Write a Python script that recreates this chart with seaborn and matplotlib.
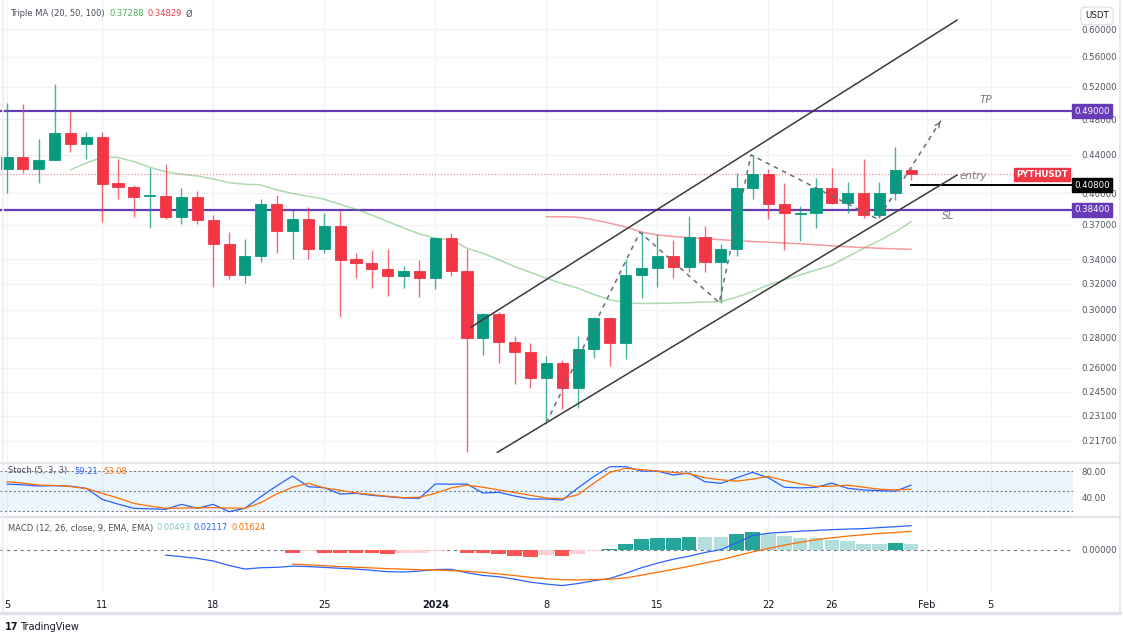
import numpy as np
import pandas as pd
import matplotlib
matplotlib.use("Agg")
import matplotlib.pyplot as plt
import seaborn as sns

W, H = 1123, 637

# daily candles PYTHUSDT, from 5 Dec 2023
start = pd.Timestamp("2023-12-05")
opens = [0.4244, 0.4372, 0.4247, 0.4339, 0.4645, 0.4521, 0.4596, 0.4100, 0.4066, 0.3970,
         0.3976, 0.3775, 0.3961, 0.3742, 0.3532, 0.3267, 0.3426, 0.3896, 0.3642, 0.3751,
         0.3484, 0.3690, 0.3399, 0.3370, 0.3321, 0.3259, 0.3302, 0.3248, 0.3585, 0.3302,
         0.2801, 0.2967, 0.2769, 0.2701, 0.2537, 0.2633, 0.2472, 0.2724, 0.2938, 0.2766,
         0.3267, 0.3329, 0.3429, 0.3332, 0.3588, 0.3374, 0.3486, 0.4050, 0.4192, 0.3896,
         0.3803, 0.3807, 0.4056, 0.3908, 0.4006, 0.3791, 0.4006, 0.4237]
highs = [0.4995, 0.4986, 0.4577, 0.5239, 0.4904, 0.4657, 0.4657, 0.4350, 0.4083, 0.4254,
         0.4300, 0.4056, 0.4023, 0.3791, 0.3638, 0.3573, 0.3944, 0.3983, 0.3838, 0.3864,
         0.3807, 0.3838, 0.3454, 0.3478, 0.3486, 0.3343, 0.3393, 0.3585, 0.3629, 0.3484,
         0.2979, 0.2986, 0.2812, 0.2762, 0.2677, 0.2651, 0.2812, 0.2945, 0.2950, 0.3399,
         0.3638, 0.3615, 0.3564, 0.3785, 0.3690, 0.3527, 0.4208, 0.4397, 0.4244, 0.4106,
         0.3876, 0.4151, 0.4254, 0.4116, 0.4350, 0.4116, 0.4481, 0.4261]
lows = [0.4006, 0.4208, 0.4106, 0.4339, 0.4432, 0.4350, 0.3724, 0.3944, 0.3770, 0.3669,
        0.3751, 0.3708, 0.3708, 0.3172, 0.3235, 0.3208, 0.3379, 0.3454, 0.3399, 0.3399,
        0.3454, 0.2950, 0.3243, 0.3169, 0.3107, 0.3169, 0.3099, 0.3156, 0.3264, 0.2114,
        0.2684, 0.2633, 0.2498, 0.2475, 0.2263, 0.2347, 0.2353, 0.2662, 0.2612, 0.2655,
        0.3087, 0.3176, 0.3243, 0.3296, 0.3296, 0.3053, 0.3426, 0.3944, 0.3751, 0.3478,
        0.3556, 0.3669, 0.3896, 0.3813, 0.3760, 0.3760, 0.3934, 0.4133]
closes = [0.4372, 0.4244, 0.4342, 0.4645, 0.4521, 0.4596, 0.4096, 0.4066, 0.3966, 0.3980,
          0.3775, 0.3961, 0.3742, 0.3532, 0.3267, 0.3429, 0.3896, 0.3642, 0.3751, 0.3484,
          0.3690, 0.3393, 0.3365, 0.3318, 0.3259, 0.3302, 0.3248, 0.3585, 0.3302, 0.2801,
          0.2967, 0.2769, 0.2701, 0.2537, 0.2633, 0.2472, 0.2724, 0.2938, 0.2766, 0.3269,
          0.3329, 0.3429, 0.3332, 0.3588, 0.3374, 0.3486, 0.4056, 0.4192, 0.3896, 0.3807,
          0.3813, 0.4056, 0.3908, 0.4006, 0.3791, 0.4006, 0.4237, 0.4192]

# Triple MA (only the 50 and 100 are visible)
ma50_start = 4
ma50 = [0.4237, 0.4310, 0.4372, 0.4370, 0.4325, 0.4265, 0.4219, 0.4192, 0.4175, 0.4143,
        0.4106, 0.4090, 0.4083, 0.4033, 0.3998, 0.3970, 0.3941, 0.3893, 0.3845, 0.3790,
        0.3730, 0.3672, 0.3618, 0.3579, 0.3564, 0.3492, 0.3449, 0.3395, 0.3337, 0.3290,
        0.3243, 0.3200, 0.3164, 0.3115, 0.3074, 0.3053, 0.3047, 0.3048, 0.3050, 0.3053,
        0.3058, 0.3061, 0.3095, 0.3138, 0.3190, 0.3230, 0.3269, 0.3310, 0.3351, 0.3420,
        0.3492, 0.3560, 0.3636, 0.3729]
ma100_start = 34
ma100 = [0.3775, 0.3774, 0.3770, 0.3745, 0.3715, 0.3680, 0.3635, 0.3608, 0.3595, 0.3584,
         0.3575, 0.3566, 0.3558, 0.3551, 0.3545, 0.3538, 0.3530, 0.3522, 0.3513, 0.3505,
         0.3498, 0.3492, 0.3487, 0.3483]

# Stoch (5, 3, 3)
stoch_k = [60.7, 59.5, 57.8, 58.3, 57.5, 54.3, 38.0, 31.0, 24.7, 24.0,
           23.2, 30.6, 24.7, 30.6, 19.7, 24.7, 42.0, 58.0, 72.6, 56.8,
           55.3, 45.9, 46.9, 44.0, 42.0, 40.0, 39.5, 60.7, 60.5, 60.7,
           47.4, 48.4, 43.0, 38.5, 38.5, 37.0, 55.0, 72.0, 86.4, 86.4,
           80.0, 80.0, 74.1, 77.0, 64.2, 61.7, 70.0, 78.0, 70.0, 56.0,
           55.0, 55.8, 62.0, 54.3, 52.0, 50.9, 50.0, 59.21]
stoch_d = [64.2, 62.0, 59.2, 58.5, 57.0, 54.0, 47.0, 40.0, 32.0, 28.0,
           24.7, 25.0, 25.5, 25.7, 25.0, 24.7, 33.0, 46.0, 56.0, 61.7,
           55.0, 51.5, 47.5, 45.0, 42.5, 40.5, 41.0, 47.0, 55.0, 59.0,
           56.0, 52.0, 48.0, 44.0, 40.0, 39.0, 45.0, 62.0, 78.0, 84.0,
           82.0, 80.0, 78.0, 76.0, 70.0, 67.0, 65.0, 68.0, 72.0, 66.0,
           61.0, 57.0, 57.5, 59.0, 56.0, 53.0, 52.0, 53.08]

# MACD (12, 26, close, 9)
macd_start = 10
macd_line = [-0.0049, -0.0062, -0.0078, -0.0100, -0.0140, -0.0172, -0.0160, -0.0157, -0.0146, -0.0150,
             -0.0157, -0.0165, -0.0172, -0.0183, -0.0195, -0.0198, -0.0190, -0.0176, -0.0174, -0.0205,
             -0.0228, -0.0240, -0.0262, -0.0288, -0.0305, -0.0318, -0.0300, -0.0275, -0.0255, -0.0210,
             -0.0160, -0.0120, -0.0085, -0.0058, -0.0025, 0.0000, 0.0060, 0.0125, 0.0145, 0.0155,
             0.0163, 0.0170, 0.0177, 0.0182, 0.0186, 0.0195, 0.0203, 0.02117]
signal_start = 18
signal_line = [-0.0128, -0.0135, -0.0142, -0.0150, -0.0156, -0.0162, -0.0168, -0.0173, -0.0178, -0.0180,
               -0.0185, -0.0192, -0.0202, -0.0215, -0.0230, -0.0245, -0.0258, -0.0266, -0.0268, -0.0265,
               -0.0261, -0.0250, -0.0226, -0.0200, -0.0175, -0.0148, -0.0118, -0.0090, -0.0055, -0.0020,
               0.0010, 0.0040, 0.0065, 0.0088, 0.0105, 0.0120, 0.0132, 0.0143, 0.0152, 0.01624]
hist = [-0.0029, -0.0012, -0.0029, -0.0030, -0.0031, -0.0032, -0.0035, -0.0029, -0.0028, -0.0008,
        -0.0004, -0.0029, -0.0030, -0.0041, -0.0052, -0.0061, -0.0049, -0.0055, -0.0035, -0.0012,
        0.0006, 0.0052, 0.0090, 0.0102, 0.0107, 0.0116, 0.0110, 0.0108, 0.0139, 0.0160,
        0.0134, 0.0125, 0.0106, 0.0104, 0.0081, 0.0073, 0.0053, 0.0050, 0.0061, 0.00493]

# drawings (x in days from 5 Dec, y in price)
tp_level, entry_level, sl_level = 0.49, 0.408, 0.384
entry_from = 56.9
channel_up_x, channel_up_y = [29.24, 59.9], [0.2873, 0.6135]
channel_lo_x, channel_lo_y = [30.9, 59.9], [0.2109, 0.4185]
zigzag_x = [34.0, 39.9, 44.9, 46.9, 54.9, 58.93]
zigzag_y = [0.2270, 0.3633, 0.3053, 0.4397, 0.3751, 0.4802]

price_ticks = [0.217, 0.231, 0.245, 0.26, 0.28, 0.30, 0.32, 0.34, 0.37, 0.40, 0.44, 0.48, 0.52, 0.56, 0.60]
tick_dates = ["2023-12-05", "2023-12-11", "2023-12-18", "2023-12-25", "2024-01-01", "2024-01-08",
              "2024-01-15", "2024-01-22", "2024-01-26", "2024-02-01", "2024-02-05"]
tick_labels = ["5", "11", "18", "25", "2024", "8", "15", "22", "26", "Feb", "5"]

UP, DOWN = "#089981", "#f23645"
PURPLE = "#673ab7"
GRID = "#f0f2f6"
TXT = "#50535e"

sns.set_theme(style="white")
plt.rcParams["font.family"] = ["DejaVu Sans"]


def fx(px):
    return px / W


def fy(py):
    return 1 - py / H


fig = plt.figure(figsize=(W / 100, H / 100), dpi=100)
fig.patch.set_facecolor("white")
ax = fig.add_axes([0, fy(462), fx(1073), 462 / H])
ax_st = fig.add_axes([0, fy(516), fx(1073), 53 / H], sharex=ax)
ax_md = fig.add_axes([0, fy(592), fx(1073), 74 / H], sharex=ax)

n = len(closes)
x = np.arange(n)
o, h, l, c = map(np.array, (opens, highs, lows, closes))
cols = [UP if cc >= oo else DOWN for oo, cc in zip(o, c)]
tick_pos = [(pd.Timestamp(d) - start).days for d in tick_dates]

# ---------------- main pane ----------------
ax.set_yscale("log")
ax.set_xlim(-0.44, 67.2)
ax.set_ylim(0.2060, 0.6446)
for p in price_ticks:
    ax.axhline(p, color=GRID, lw=1, zorder=0)
for t in tick_pos:
    ax.axvline(t, color=GRID, lw=1, zorder=0)

ax.axhline(c[-1], color=DOWN, lw=0.9, ls=(0, (1, 1.5)), alpha=0.55, zorder=1)
ax.axhline(tp_level, color=PURPLE, lw=1.6, zorder=2)
ax.axhline(sl_level, color=PURPLE, lw=1.6, zorder=2)
ax.hlines(entry_level, entry_from, 67.2, color="black", lw=1.4, zorder=2)

sns.lineplot(x=np.arange(ma50_start, ma50_start + len(ma50)), y=ma50, ax=ax,
             color="#4caf50", alpha=0.45, lw=1.1, zorder=2)
sns.lineplot(x=np.arange(ma100_start, ma100_start + len(ma100)), y=ma100, ax=ax,
             color="#f23645", alpha=0.5, lw=1.1, zorder=2)

ax.vlines(x, l, h, colors=cols, lw=1, alpha=0.75, zorder=3)
ax.bar(x, np.abs(c - o), bottom=np.minimum(o, c), width=0.7, color=cols,
       edgecolor=cols, linewidth=0.6, zorder=4)

sns.lineplot(x=channel_up_x, y=channel_up_y, ax=ax, color="#3a3a3a", lw=1.1, zorder=5)
sns.lineplot(x=channel_lo_x, y=channel_lo_y, ax=ax, color="#3a3a3a", lw=1.1, zorder=5)
sns.lineplot(x=zigzag_x, y=zigzag_y, ax=ax, sort=False, color="#6a6d78", lw=1.1,
             linestyle=(0, (3, 3)), zorder=5)
# arrow head on the last leg
t = 0.93
tail_x = zigzag_x[-2] + t * (zigzag_x[-1] - zigzag_x[-2])
tail_y = np.exp(np.log(zigzag_y[-2]) + t * (np.log(zigzag_y[-1]) - np.log(zigzag_y[-2])))
ax.annotate("", xy=(zigzag_x[-1], zigzag_y[-1]), xytext=(tail_x, tail_y),
            arrowprops=dict(arrowstyle="->", color="#6a6d78", lw=1.0, mutation_scale=8), zorder=5)

ax.text(61.7, 0.5036, "TP", color="#787b86", fontsize=7.5, style="italic", ha="center", va="center")
ax.text(60.9, 0.4175, "entry", color="#787b86", fontsize=7.5, style="italic", ha="center", va="center")
ax.text(59.3, 0.3777, "SL", color="#787b86", fontsize=7.5, style="italic", ha="center", va="center")

ax.yaxis.tick_right()
ax.set_yticks(price_ticks)
ax.set_yticklabels([f"{p:.5f}" for p in price_ticks])
ax.minorticks_off()
ax.tick_params(axis="y", length=0, pad=6, labelsize=6.2, labelcolor=TXT)
ax.tick_params(axis="x", bottom=False, labelbottom=False)

ytr = ax.get_yaxis_transform()
for lvl, bg in ((tp_level, PURPLE), (entry_level, "black"), (sl_level, PURPLE)):
    ax.text(1.0012, lvl, f"{lvl:.5f}", transform=ytr, ha="left", va="center", fontsize=6.2,
            color="white", clip_on=False, zorder=10,
            bbox=dict(boxstyle="square,pad=0.3", fc=bg, ec=bg))
ax.text(0.995, c[-1], "PYTHUSDT", transform=ytr, ha="right", va="center", fontsize=6.2,
        color="white", fontweight="bold", zorder=10,
        bbox=dict(boxstyle="square,pad=0.25", fc=DOWN, ec=DOWN))

# ---------------- stoch pane ----------------
ax_st.set_ylim(13.3, 91.9)
ax_st.axhspan(20, 80, color="#2196f3", alpha=0.09, lw=0)
for lv in (80, 50, 20):
    ax_st.axhline(lv, color="#787b86", lw=0.8, ls=(0, (2, 2)))
for t_ in tick_pos:
    ax_st.axvline(t_, color=GRID, lw=1, zorder=0)
sns.lineplot(x=x, y=stoch_k, ax=ax_st, color="#2962ff", lw=0.9)
sns.lineplot(x=x, y=stoch_d, ax=ax_st, color="#ff6d00", lw=0.9)
ax_st.yaxis.tick_right()
ax_st.set_yticks([40, 80])
ax_st.set_yticklabels(["40.00", "80.00"])
ax_st.tick_params(axis="y", length=0, pad=6, labelsize=6.2, labelcolor=TXT)
ax_st.tick_params(axis="x", bottom=False, labelbottom=False)

# ---------------- MACD pane ----------------
ax_md.set_ylim(-0.0375, 0.028)
for t_ in tick_pos:
    ax_md.axvline(t_, color=GRID, lw=1, zorder=0)
ax_md.axhline(0, color="#787b86", lw=0.8, ls=(0, (3, 3)))
hx = np.arange(signal_start, signal_start + len(hist))
hcols = []
for i, v in enumerate(hist):
    prev = hist[i - 1] if i > 0 else 0
    if v >= 0:
        hcols.append("#26a69a" if v > prev else "#b2dfdb")
    else:
        hcols.append("#ff5252" if v < prev else "#ffcdd2")
ax_md.bar(hx, hist, width=0.92, color=hcols, lw=0, zorder=2)
sns.lineplot(x=np.arange(macd_start, macd_start + len(macd_line)), y=macd_line, ax=ax_md,
             color="#2962ff", lw=0.9, zorder=3)
sns.lineplot(x=np.arange(signal_start, signal_start + len(signal_line)), y=signal_line, ax=ax_md,
             color="#ff6d00", lw=0.9, zorder=3)
ax_md.yaxis.tick_right()
ax_md.set_yticks([0])
ax_md.set_yticklabels(["0.00000"])
ax_md.tick_params(axis="y", length=0, pad=6, labelsize=6.2, labelcolor=TXT)
ax_md.set_xticks(tick_pos)
ax_md.set_xticklabels(tick_labels)
ax_md.tick_params(axis="x", length=0, pad=6, labelsize=7, labelcolor="#131722")
for lab in ax_md.get_xticklabels():
    if lab.get_text() == "2024":
        lab.set_fontweight("bold")

for a in (ax, ax_st, ax_md):
    a.set_xlabel("")
    a.set_ylabel("")
    for s in a.spines.values():
        s.set_visible(False)
    a.set_facecolor("white")

# pane separators, outer borders
for yy, lw in ((462.5, 1.2), (517, 1.6), (613, 2.5)):
    fig.add_artist(plt.Line2D([0, fx(1120)], [fy(yy), fy(yy)], color="#e0e3eb", lw=lw))
fig.add_artist(plt.Line2D([fx(1120), fx(1120)], [fy(0), fy(613)], color="#e0e3eb", lw=1.2))
fig.add_artist(plt.Line2D([fx(2.5), fx(2.5)], [fy(0), fy(613)], color="#eceef2", lw=1.2))

# legends / titles
fig.text(fx(10), fy(14), "Triple MA (20, 50, 100)", fontsize=6, color="#4a4e59", va="center")
fig.text(fx(110), fy(14), "0.37288", fontsize=6, color="#4caf50", va="center")
fig.text(fx(147), fy(14), "0.34829", fontsize=6, color="#f23645", va="center")
fig.text(fx(186), fy(14), "\u00d8", fontsize=6, color="#4a4e59", va="center")
fig.text(fx(8), fy(471), "Stoch (5, 3, 3)", fontsize=6, color="#4a4e59", va="center")
fig.text(fx(74), fy(471), "59.21", fontsize=6, color="#2962ff", va="center")
fig.text(fx(103), fy(471), "53.08", fontsize=6, color="#ff6d00", va="center")
fig.text(fx(8), fy(528), "MACD (12, 26, close, 9, EMA, EMA)", fontsize=6, color="#4a4e59", va="center")
fig.text(fx(156), fy(528), "0.00493", fontsize=6, color="#80cbc4", va="center")
fig.text(fx(194), fy(528), "0.02117", fontsize=6, color="#2962ff", va="center")
fig.text(fx(232), fy(528), "0.01624", fontsize=6, color="#ff6d00", va="center")

fig.text(fx(1097), fy(16), "USDT", fontsize=6.2, color="#131722", ha="center", va="center",
         bbox=dict(boxstyle="round,pad=0.5", fc="white", ec="#e0e3eb"))

fig.text(fx(5), fy(627), "17", fontsize=7, color="#131722", fontweight="bold", va="center")
fig.text(fx(20), fy(627), "TradingView", fontsize=7, color="#131722", va="center")

fig.savefig("out.png", dpi=100)
